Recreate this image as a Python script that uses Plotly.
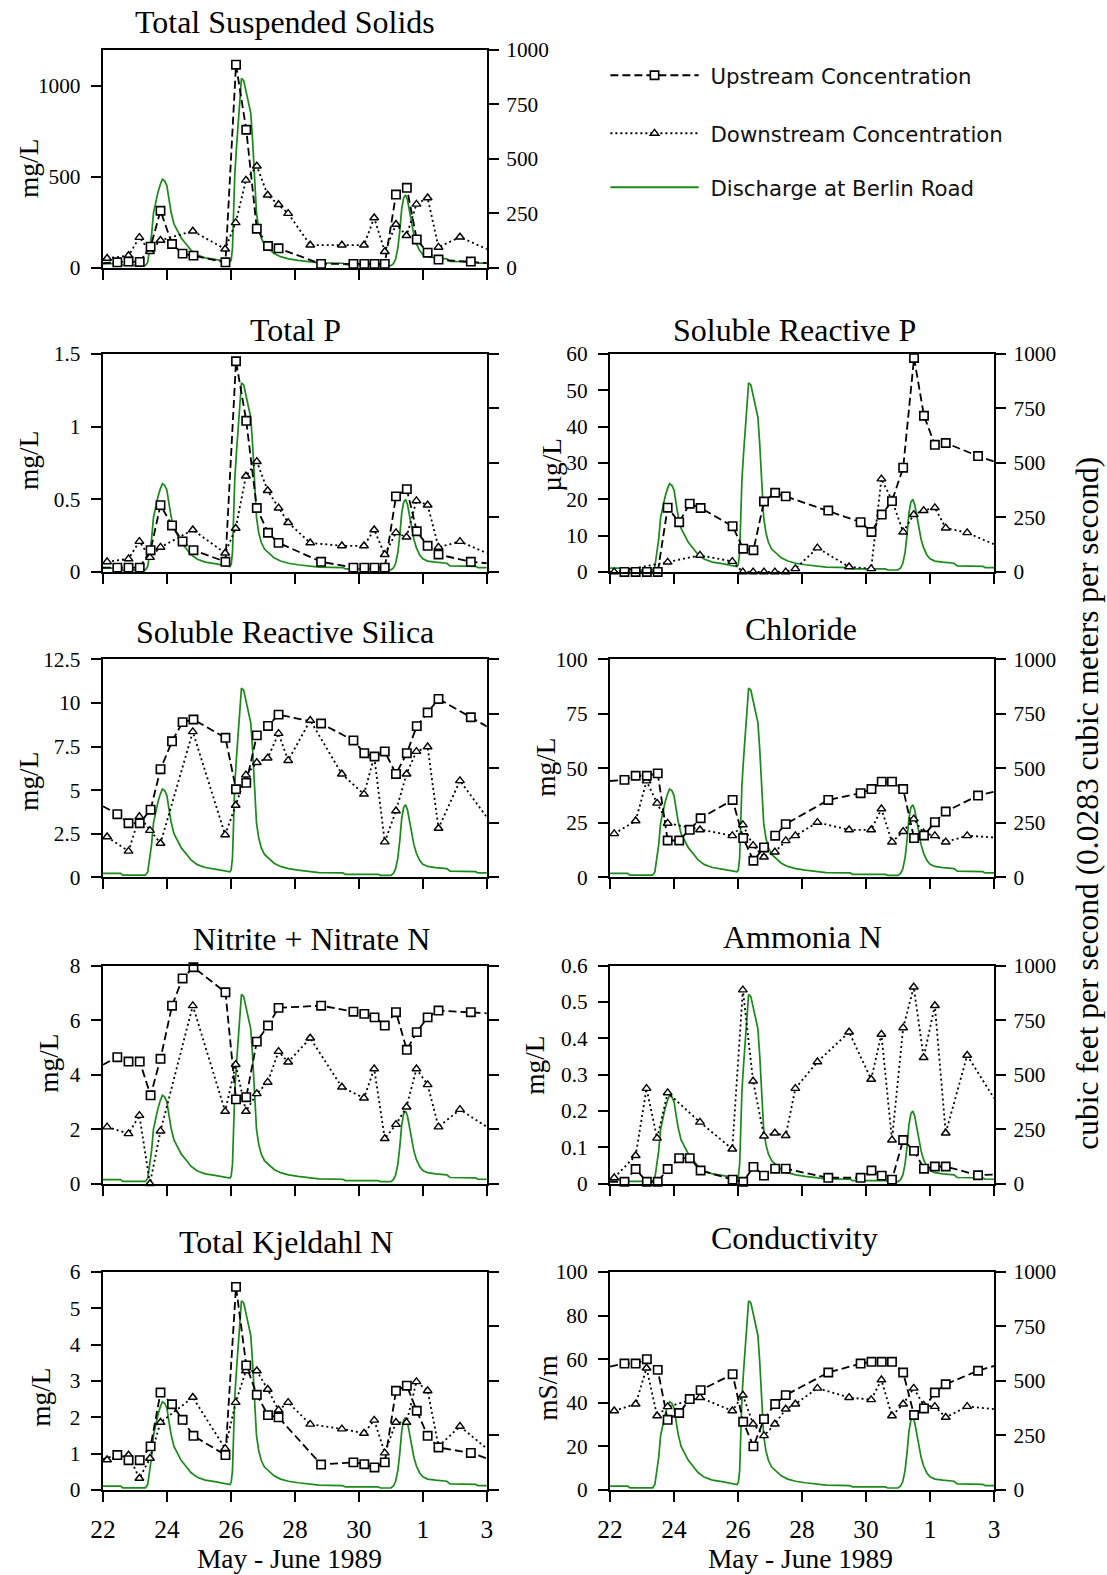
import math
import plotly.graph_objects as go

# ---------------- data ----------------
# sampling times, days after 00:00 on 22 May 1989
up_days = [0.45, 0.80, 1.15, 1.49, 1.80, 2.16, 2.49, 2.83, 3.83, 4.16, 4.48, 4.81, 5.16,
           5.49, 6.82, 7.83, 8.17, 8.49, 8.81, 9.16, 9.50, 9.81, 10.15, 10.49, 11.50]
dn_days = [0.13, 0.80, 1.14, 1.47, 1.80, 2.81, 3.82, 4.15, 4.47, 4.81, 5.15, 5.49, 5.79,
           6.48, 7.47, 8.16, 8.48, 8.81, 9.16, 9.49, 9.80, 10.15, 10.49, 11.16]
edge_days = [0.0, 12.0]

# discharge at Berlin Road (cubic feet per second)
q_days = [0.0, 0.55, 0.62, 1.33, 1.40, 1.46, 1.52, 1.58, 1.65, 1.72, 1.79, 1.86, 1.93, 2.00,
          2.06, 2.13, 2.22, 2.33, 2.45, 2.60, 2.75, 2.95, 3.20, 3.50, 3.80, 3.97, 4.01, 4.05,
          4.08, 4.12, 4.17, 4.22, 4.28, 4.33, 4.40, 4.47, 4.55, 4.62, 4.68, 4.74, 4.80, 4.87,
          4.95, 5.05, 5.20, 5.35, 5.55, 5.80, 6.10, 6.50, 6.75, 7.50, 7.58, 8.60, 8.68, 9.00,
          9.08, 9.15, 9.22, 9.28, 9.34, 9.40, 9.46, 9.52, 9.58, 9.65, 9.72, 9.80, 9.90, 10.00,
          10.15, 10.40, 10.75, 10.85, 11.65, 11.72, 12.0]
q_cfs = [18, 18, 10, 10, 25, 80, 150, 250, 300, 345, 380, 405, 398, 375,
         318, 255, 200, 165, 135, 108, 80, 58, 45, 38, 30, 25, 35, 90,
         230, 420, 540, 640, 790, 868, 858, 810, 765, 710, 580, 400, 250, 180,
         135, 105, 85, 65, 50, 40, 33, 27, 22, 20, 14, 14, 9, 9,
         18, 40, 90, 170, 270, 320, 333, 310, 260, 200, 150, 110, 78, 60,
         50, 45, 40, 28, 26, 20, 20]

# Total Suspended Solids (mg/L)
tss_up = [29, 33, 31, 115, 313, 130, 77, 66, 29, 1117, 759, 214, 119, 106, 20, 20, 20, 20, 20,
          402, 439, 155, 82, 44, 33]
tss_dn = [51, 66, 166, 88, 150, 201, 102, 247, 481, 559, 399, 347, 298, 124, 124, 124, 274, 88,
          238, 176, 349, 384, 112, 168]
tss_up_edge = [24, 24]
tss_dn_edge = 102

# Total P (mg/L)
tp_up = [0.03, 0.03, 0.03, 0.15, 0.46, 0.32, 0.21, 0.15, 0.07, 1.45, 1.04, 0.44, 0.27, 0.20,
         0.07, 0.03, 0.03, 0.03, 0.03, 0.52, 0.57, 0.28, 0.18, 0.12, 0.07]
tp_dn = [0.07, 0.09, 0.21, 0.10, 0.17, 0.29, 0.13, 0.30, 0.66, 0.76, 0.56, 0.44, 0.34, 0.20,
         0.18, 0.18, 0.29, 0.12, 0.27, 0.24, 0.49, 0.46, 0.17, 0.21]
tp_up_edge = [0.03, 0.06]
tp_dn_edge = 0.13

# Soluble Reactive P (ug/L)
srp_up = [0, 0, 0, 0, 17.7, 13.7, 18.8, 17.6, 12.6, 6.4, 6.0, 19.4, 21.8, 20.8, 16.9, 13.7,
          11.0, 15.8, 19.5, 28.7, 58.9, 43.0, 35.0, 35.5, 31.9]
srp_dn = [0, None, None, None, 2.7, 4.6, 2.9, 0, 0, 0, 0, 0, 0.9, 6.6, 1.4, 0.9, 25.6, 19.7,
          11.0, 15.8, 16.9, 17.7, 12.1, 10.8]
srp_up_edge = [0, 30.4]
srp_dn_edge = 7.6

# Soluble Reactive Silica (mg/L)
si_up = [3.62, 3.10, 3.10, 3.88, 6.20, 7.80, 8.90, 9.05, 8.00, 5.05, 5.42, 8.14, 8.68, 9.33,
         8.82, 7.85, 7.12, 6.93, 7.22, 5.93, 7.12, 8.67, 9.45, 10.23, 9.18]
si_dn = [2.32, 1.50, 3.48, 2.69, 1.95, 8.35, 2.44, 4.13, 5.87, 6.58, 6.84, 8.25, 6.70, 9.00,
         5.92, 4.77, 6.93, 2.03, 3.81, 5.92, 7.22, 7.48, 2.81, 5.54]
si_up_edge = [4.08, 8.65]
si_dn_edge = 3.45

# Chloride (mg/L)
cl_up = [44.7, 46.6, 46.6, 47.7, 16.9, 16.9, 21.8, 27.1, 35.5, 18.0, 7.6, 13.7, 19.1, 24.4,
         35.5, 38.6, 40.5, 43.9, 43.9, 40.5, 18.0, 19.2, 25.3, 30.2, 37.5]
cl_dn = [20.0, 25.9, 44.2, 34.0, 24.8, 21.8, 19.1, 24.1, 14.6, 9.3, 11.6, 16.8, 19.1, 25.2,
         21.8, 21.8, 31.4, 16.2, 21.0, 26.8, 20.3, 19.1, 16.2, 19.1]
cl_up_edge = [44.2, 39.3]
cl_dn_edge = 18.3

# Nitrite + Nitrate N (mg/L)
no_up = [4.64, 4.48, 4.48, 3.24, 4.58, 6.53, 7.53, 7.94, 7.02, 3.09, 3.17, 5.21, 5.80, 6.45,
         6.53, 6.31, 6.23, 6.10, 5.80, 6.29, 4.91, 5.56, 6.10, 6.35, 6.29]
no_dn = [2.08, 1.83, 2.50, 0.00, 1.93, 6.53, 2.65, 4.37, 2.65, 3.30, 3.72, 4.85, 4.46, 5.34,
         3.54, 3.14, 4.21, 1.65, 2.17, 2.81, 4.21, 3.63, 2.08, 2.72]
no_up_edge = [4.36, 6.25]
no_dn_edge = 2.08

# Ammonia N (mg/L)
nh_up = [0.005, 0.040, 0.005, 0.005, 0.040, 0.070, 0.070, 0.036, 0.011, 0.005, 0.046, 0.022,
         0.041, 0.041, 0.016, 0.016, 0.036, 0.022, 0.011, 0.120, 0.090, 0.041, 0.047, 0.047,
         0.023]
nh_dn = [0.016, 0.077, 0.262, 0.125, 0.250, 0.169, 0.095, 0.533, 0.282, 0.131, 0.139, 0.132,
         0.262, 0.335, 0.417, 0.287, 0.411, 0.120, 0.429, 0.541, 0.347, 0.490, 0.139, 0.353]
nh_up_edge = [0.005, 0.025]
nh_dn_edge = 0.235

# Total Kjeldahl N (mg/L)
tkn_up = [0.96, 0.82, 0.82, 1.20, 2.68, 2.36, 1.93, 1.49, 0.96, 5.59, 3.43, 2.62, 2.06, 2.00,
          0.70, 0.76, 0.71, 0.62, 0.76, 2.73, 2.87, 2.18, 1.49, 1.17, 1.02]
tkn_dn = [0.83, 0.96, 0.32, 0.87, 1.86, 2.55, 1.14, 2.41, 3.28, 3.28, 2.77, 2.20, 2.41, 1.81,
          1.68, 1.56, 1.92, 1.02, 1.86, 1.86, 2.98, 2.73, 1.20, 1.75]
tkn_up_edge = [0.85, 0.87]
tkn_dn_edge = 1.14

# Conductivity (mS/m)
ec_up = [58.0, 58.0, 60.0, 55.1, 32.2, 35.3, 41.7, 45.8, 53.1, 31.3, 20.0, 32.5, 39.4, 43.5,
         53.9, 58.0, 58.8, 58.8, 58.8, 53.9, 34.4, 37.4, 44.7, 48.5, 54.7]
ec_dn = [36.3, 39.4, 55.9, 34.0, 38.2, 42.4, 36.3, 43.5, 30.2, 24.9, 30.2, 37.1, 39.4, 46.7,
         42.4, 41.4, 50.5, 34.0, 39.4, 46.7, 38.9, 38.3, 33.3, 38.3]
ec_up_edge = [56.6, 56.9]
ec_dn_edge = 37.1

# tick labels
x_tickvals = [0, 2, 4, 6, 8, 10, 12]
x_ticktext = ["22", "24", "26", "28", "30", "1", "3"]
q_tickvals = [0, 250, 500, 750, 1000]
q_ticktext = ["0", "250", "500", "750", "1000"]
tss_ticks = [0, 500, 1000]
tp_ticks = [0, 0.5, 1, 1.5]
srp_ticks = [0, 10, 20, 30, 40, 50, 60]
si_ticks = [0, 2.5, 5, 7.5, 10, 12.5]
cl_ticks = [0, 25, 50, 75, 100]
no_ticks = [0, 2, 4, 6, 8]
nh_ticks = [0, 0.1, 0.2, 0.3, 0.4, 0.5, 0.6]
tkn_ticks = [0, 1, 2, 3, 4, 5, 6]
ec_ticks = [0, 20, 40, 60, 80, 100]

# ---------------- page geometry ----------------
# target positions are given in page pixels; they are mapped into figure pixels to
# compensate for the page margin and the capture scale observed in earlier renders.
SCALE = 0.985
CX, CY = 3.5, 2.7
MARGIN = 8
K = 1 / SCALE


def fx(d):
    return (d - CX) / SCALE - MARGIN


def fy(d):
    return (d - CY) / SCALE - MARGIN


W = math.ceil(fx(1107))
H = math.ceil(fy(1575))


def px(x):
    return fx(x) / W


def py(y):
    return 1 - fy(y) / H


COL_X = [(101.5, 486.2), (609.7, 994.5)]
ROW_Y = [(48.2, 266.2), (352.6, 570.6), (658.0, 876.0), (964.3, 1182.3), (1270.7, 1488.7)]

panels = [
    dict(title="Total Suspended Solids", unit="mg/L", up=tss_up, dn=tss_dn, ue=tss_up_edge,
         de=tss_dn_edge, yr=[0, 1200], yt=tss_ticks, row=0, col=0, rlab=True,
         tpos=(284, 21), upos=(28, 167)),
    dict(title="Total P", unit="mg/L", up=tp_up, dn=tp_dn, ue=tp_up_edge, de=tp_dn_edge,
         yr=[0, 1.5], yt=tp_ticks, row=1, col=0, rlab=False, tpos=(294, 329), upos=(28, 459)),
    dict(title="Soluble Reactive P", unit="µg/L", up=srp_up, dn=srp_dn, ue=srp_up_edge,
         de=srp_dn_edge, yr=[0, 60], yt=srp_ticks, row=1, col=1, rlab=True,
         tpos=(795, 329), upos=(552, 463)),
    dict(title="Soluble Reactive Silica", unit="mg/L", up=si_up, dn=si_dn, ue=si_up_edge,
         de=si_dn_edge, yr=[0, 12.5], yt=si_ticks, row=2, col=0, rlab=False,
         tpos=(284, 631), upos=(28, 780)),
    dict(title="Chloride", unit="mg/L", up=cl_up, dn=cl_dn, ue=cl_up_edge, de=cl_dn_edge,
         yr=[0, 100], yt=cl_ticks, row=2, col=1, rlab=True, tpos=(801, 628), upos=(546, 766)),
    dict(title="Nitrite + Nitrate N", unit="mg/L", up=no_up, dn=no_dn, ue=no_up_edge,
         de=no_dn_edge, yr=[0, 8], yt=no_ticks, row=3, col=0, rlab=False,
         tpos=(311, 938), upos=(48, 1062)),
    dict(title="Ammonia N", unit="mg/L", up=nh_up, dn=nh_dn, ue=nh_up_edge, de=nh_dn_edge,
         yr=[0, 0.6], yt=nh_ticks, row=3, col=1, rlab=True, tpos=(803, 936), upos=(535, 1064)),
    dict(title="Total Kjeldahl N", unit="mg/L", up=tkn_up, dn=tkn_dn, ue=tkn_up_edge,
         de=tkn_dn_edge, yr=[0, 6], yt=tkn_ticks, row=4, col=0, rlab=False,
         tpos=(285, 1241), upos=(40, 1396)),
    dict(title="Conductivity", unit="mS/m", up=ec_up, dn=ec_dn, ue=ec_up_edge, de=ec_dn_edge,
         yr=[0, 100], yt=ec_ticks, row=4, col=1, rlab=True, tpos=(795, 1237), upos=(548, 1386)),
]

SERIF = "Liberation Serif"
SANS = "DejaVu Sans"
GREEN = "#1b8a1b"
UP_LINE = dict(color="black", width=1.8 * K, dash="8px,4px")
DN_LINE = dict(color="black", width=1.8 * K, dash="2px,3px")
UP_MARK = dict(symbol="square", size=8.2 * K, color="white",
               line=dict(color="black", width=1.6 * K))
DN_MARK = dict(symbol="triangle-up", size=7.6 * K, color="white",
               line=dict(color="black", width=1.4 * K))

fig = go.Figure()
layout = dict(width=W, height=H, margin=dict(l=0, r=0, t=0, b=0),
              paper_bgcolor="white", plot_bgcolor="white", showlegend=True,
              font=dict(family=SERIF, color="black"))
annotations = []

for k, p in enumerate(panels, start=1):
    xname = "x" if k == 1 else f"x{k}"
    qname = "y" if k == 1 else f"y{2 * k - 1}"
    cname = f"y{2 * k}"
    x0, x1 = COL_X[p["col"]]
    y0, y1 = ROW_Y[p["row"]]
    bottom = p["row"] == 4

    layout["xaxis" + ("" if k == 1 else str(k))] = dict(
        domain=[px(x0), px(x1)], anchor=qname, range=[0, 12],
        tickvals=x_tickvals, ticktext=x_ticktext, showticklabels=bottom,
        ticks="outside", ticklen=10 * K, tickwidth=2 * K, tickcolor="black",
        showline=True, linewidth=2 * K, linecolor="black", mirror=True,
        showgrid=False, zeroline=False, ticklabelstandoff=5,
        tickfont=dict(family=SERIF, size=25 * K, color="black"))
    layout["yaxis" + ("" if k == 1 else str(2 * k - 1))] = dict(
        domain=[py(y1), py(y0)], anchor=xname, side="right", range=[0, 1000],
        tickvals=q_tickvals, ticktext=q_ticktext, showticklabels=p["rlab"],
        ticks="outside", ticklen=10 * K, tickwidth=2 * K, tickcolor="black",
        showline=True, linewidth=2 * K, linecolor="black",
        showgrid=False, zeroline=False, ticklabelstandoff=3,
        tickfont=dict(family=SERIF, size=21 * K, color="black"))
    layout[f"yaxis{2 * k}"] = dict(
        overlaying=qname, anchor=xname, side="left", range=p["yr"],
        tickvals=p["yt"], ticktext=[f"{v:g}" for v in p["yt"]],
        ticks="outside", ticklen=10 * K, tickwidth=2 * K, tickcolor="black",
        showline=True, linewidth=2 * K, linecolor="black",
        showgrid=False, zeroline=False, ticklabelstandoff=6,
        tickfont=dict(family=SERIF, size=21 * K, color="black"))

    # discharge hydrograph (right axis)
    fig.add_trace(go.Scatter(x=q_days, y=q_cfs, mode="lines", xaxis=xname, yaxis=qname,
                             line=dict(color=GREEN, width=1.7 * K), showlegend=False,
                             hoverinfo="skip"))
    # downstream line (runs out to the right frame)
    fig.add_trace(go.Scatter(x=dn_days + [edge_days[1]], y=p["dn"] + [p["de"]], mode="lines",
                             xaxis=xname, yaxis=cname, line=DN_LINE, connectgaps=True,
                             showlegend=False, hoverinfo="skip"))
    # upstream line (frame to frame)
    fig.add_trace(go.Scatter(x=[edge_days[0]] + up_days + [edge_days[1]],
                             y=[p["ue"][0]] + p["up"] + [p["ue"][1]], mode="lines",
                             xaxis=xname, yaxis=cname, line=UP_LINE, connectgaps=True,
                             showlegend=False, hoverinfo="skip"))
    fig.add_trace(go.Scatter(x=dn_days, y=p["dn"], mode="markers", xaxis=xname, yaxis=cname,
                             marker=DN_MARK, cliponaxis=False, showlegend=False))
    fig.add_trace(go.Scatter(x=up_days, y=p["up"], mode="markers", xaxis=xname, yaxis=cname,
                             marker=UP_MARK, cliponaxis=False, showlegend=False))

    annotations.append(dict(text=p["title"], x=px(p["tpos"][0]), y=py(p["tpos"][1]),
                            xref="paper", yref="paper", xanchor="center", yanchor="middle",
                            showarrow=False,
                            font=dict(family=SERIF, size=31.5 * K, color="black")))
    annotations.append(dict(text=p["unit"], x=px(p["upos"][0]), y=py(p["upos"][1]),
                            xref="paper", yref="paper", xanchor="center", yanchor="middle",
                            textangle=-90, showarrow=False,
                            font=dict(family=SERIF, size=27 * K, color="black")))

for cx in (288, 801):
    annotations.append(dict(text="May - June 1989", x=px(cx), y=py(1558), xref="paper",
                            yref="paper", xanchor="center", yanchor="middle", showarrow=False,
                            font=dict(family=SERIF, size=27 * K, color="black")))

annotations.append(dict(text="cubic feet per second (0.0283 cubic meters per second)",
                        x=px(1088), y=py(802), xref="paper", yref="paper", xanchor="center",
                        yanchor="middle", textangle=-90, showarrow=False,
                        font=dict(family=SERIF, size=31 * K, color="black")))

# legend entries
legend_items = [
    ("\u00a0Upstream Concentration", "lines+markers", UP_LINE, UP_MARK, "legend", 74),
    ("\u00a0Downstream Concentration", "lines+markers", DN_LINE, DN_MARK, "legend2", 132),
    ("\u00a0Discharge at Berlin Road", "lines", dict(color=GREEN, width=1.9 * K), None,
     "legend3", 186),
]
for name, mode, line, marker, lg, ly in legend_items:
    kw = dict(marker=marker) if marker else {}
    fig.add_trace(go.Scatter(x=[None], y=[None], mode=mode, name=name, line=line,
                             xaxis="x", yaxis="y2", legend=lg, showlegend=True, **kw))
    layout[lg] = dict(x=px(605), y=py(ly), xanchor="left", yanchor="middle",
                      itemwidth=87 * K, bgcolor="rgba(0,0,0,0)", borderwidth=0,
                      font=dict(family=SANS, size=21 * K, color="#111111"),
                      itemclick=False, itemdoubleclick=False)

layout["annotations"] = annotations
fig.update_layout(**layout)
fig.write_html("out.html")
